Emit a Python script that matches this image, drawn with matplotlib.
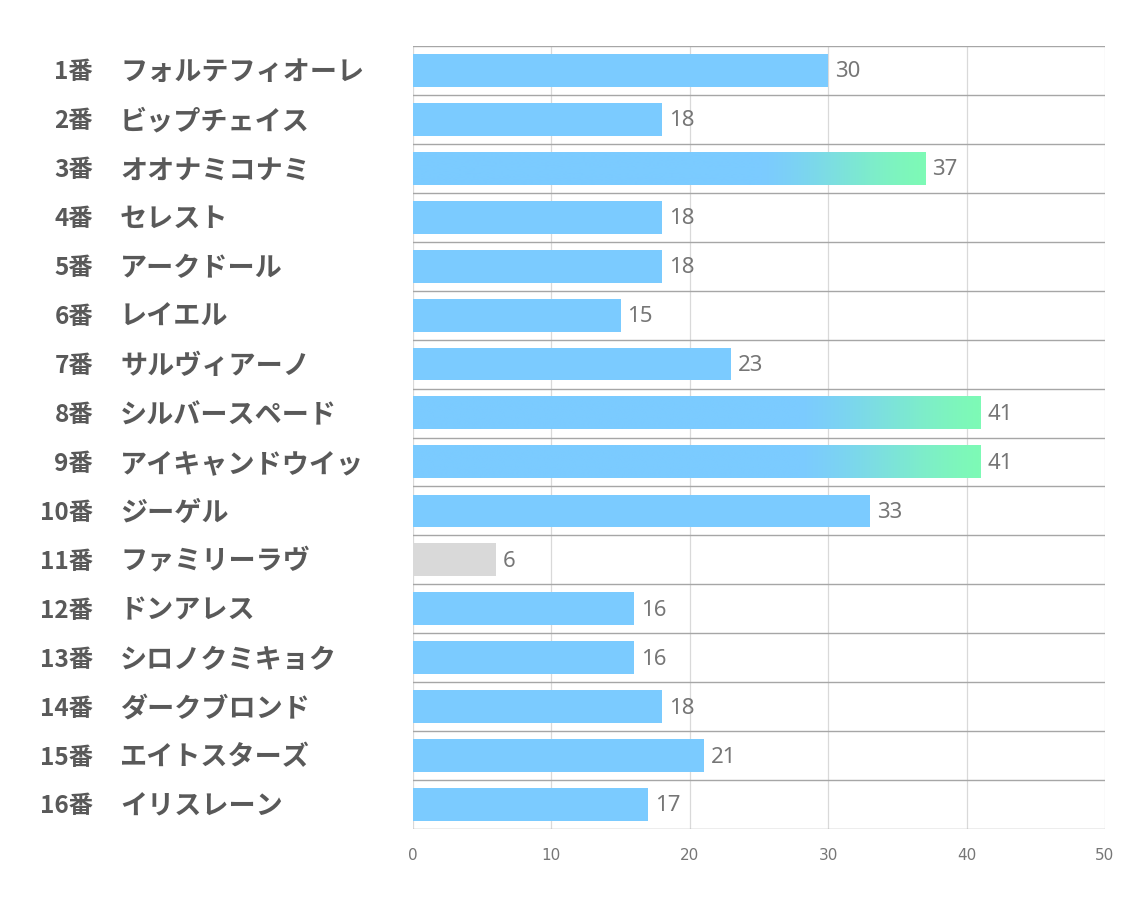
import numpy as np
import matplotlib
matplotlib.use('Agg')
from matplotlib import pyplot as plt
from matplotlib.colors import LinearSegmentedColormap

plt.rcParams['font.family'] = ['Noto Sans CJK JP', 'DejaVu Sans']

numbers = ['1番', '2番', '3番', '4番', '5番', '6番', '7番', '8番',
           '9番', '10番', '11番', '12番', '13番', '14番', '15番', '16番']
names = ['フォルテフィオーレ', 'ビップチェイス', 'オオナミコナミ', 'セレスト',
         'アークドール', 'レイエル', 'サルヴィアーノ', 'シルバースペード',
         'アイキャンドウイッ', 'ジーゲル', 'ファミリーラヴ', 'ドンアレス',
         'シロノクミキョク', 'ダークブロンド', 'エイトスターズ', 'イリスレーン']
values = [30, 18, 37, 18, 18, 15, 23, 41, 41, 33, 6, 16, 16, 18, 21, 17]
highlight = [False, False, True, False, False, False, False, True,
             True, False, False, False, False, False, False, False]
muted = [False] * 10 + [True] + [False] * 5

blue = '#7BCBFF'
green = '#7EFAB6'
grey_bar = '#D9D9D9'
text_col = '#595959'
num_col = '#767676'

fig = plt.figure(figsize=(11.34, 9.07), dpi=100)
ax = fig.add_axes([413 / 1134, 1 - 829 / 907, 692 / 1134, 783 / 907])

n = len(values)
ys = np.arange(n)
h = 0.67
cmap = LinearSegmentedColormap.from_list('bg', [blue, green])

for y, v, hl, mu in zip(ys, values, highlight, muted):
    if hl:
        # whole bar drawn as an image: flat blue, then blend to green at the end
        xs = np.linspace(0, v, 512)
        start = v * 0.68
        t = np.clip((xs - start) / (v - start), 0, 1)
        t = 0.5 * (t + t * t * (3 - 2 * t))
        ax.imshow(t[None, :], cmap=cmap, vmin=0, vmax=1, aspect='auto', zorder=3,
                  extent=[0, v, y + h / 2, y - h / 2], interpolation='bilinear')
    else:
        c = grey_bar if mu else blue
        ax.barh(y, v, height=h, color=c, lw=0, zorder=2)
    ax.text(v + 0.5, y + 0.03, str(v), va='center', ha='left', fontsize=16,
            color=num_col, family=['Liberation Sans Narrow', 'Noto Sans'], zorder=4)

ax.set_xlim(0, 50)
ax.set_ylim(n - 0.5, -0.5)
ax.set_xticks(range(0, 51, 10))
ax.set_yticks([])
ax.tick_params(axis='x', length=0, pad=14, labelsize=11, labelcolor=num_col)
for lbl in ax.get_xticklabels():
    lbl.set_family(['Liberation Sans Narrow', 'DejaVu Sans'])

# vertical light grid
for xv in range(0, 51, 10):
    ax.axvline(xv, color='#D9D9D9', lw=0.9, zorder=1)
# row separators
for yb in np.arange(-0.5, n, 1.0):
    ax.axhline(yb, color='#A6A6A6', lw=1.0, zorder=1)
for s in ax.spines.values():
    s.set_visible(False)

for y, num, nm in zip(ys, numbers, names):
    ax.text(-320 / 13.84, y + 0.04, num, ha='right', va='center', fontsize=17.5,
            fontweight='bold', color=text_col, clip_on=False)
    ax.text(-293 / 13.84, y + 0.04, nm, ha='left', va='center', fontsize=19.5,
            fontweight='bold', color=text_col, clip_on=False)

fig.savefig('out.png', dpi=100)
